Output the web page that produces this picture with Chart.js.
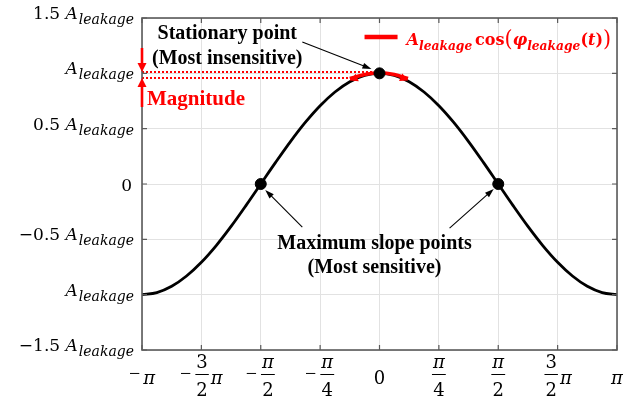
<!DOCTYPE html>
<html><head><meta charset="utf-8">
<script src="https://cdn.jsdelivr.net/npm/chart.js@4.4.1/dist/chart.umd.min.js"></script>
<style>html,body{margin:0;padding:0;background:#fff}#wrap{width:634px;height:401px;position:relative}</style>
</head><body><div id="wrap"><canvas id="c"></canvas></div>
<script>
// x in units of pi
const curveX = [-1,-0.9375,-0.875,-0.8125,-0.75,-0.6875,-0.625,-0.5625,-0.5,-0.4375,-0.375,-0.3125,-0.25,-0.1875,-0.125,-0.0625,0,0.0625,0.125,0.1875,0.25,0.3125,0.375,0.4375,0.5,0.5625,0.625,0.6875,0.75,0.8125,0.875,0.9375,1];
const curveY = [-1,-0.981,-0.924,-0.831,-0.707,-0.556,-0.383,-0.195,0,0.195,0.383,0.556,0.707,0.831,0.924,0.981,1,0.981,0.924,0.831,0.707,0.556,0.383,0.195,0,-0.195,-0.383,-0.556,-0.707,-0.831,-0.924,-0.981,-1];
const keyX = [-0.5, 0, 0.5];
const keyY = [0, 1, 0];
const arcX = [-0.125,-0.0625,0,0.0625,0.12];
const arcY = [0.953,0.99,1.005,0.99,0.953];
const magTopX = [-1, -0.03];   const magTopY = [1.012, 1.012];
const magBotX = [-1, -0.125];  const magBotY = [0.958, 0.958];
const xTickValues = [-1,-0.75,-0.5,-0.25,0,0.25,0.5,0.75,1];
const xTickLabels = [
  {sign:'−', num:'',  den:'',  tail:'π'},
  {sign:'−', num:'3', den:'2', tail:'π'},
  {sign:'−', num:'π', den:'2', tail:''},
  {sign:'−', num:'π', den:'4', tail:''},
  {sign:'',  num:'',  den:'',  tail:'0'},
  {sign:'',  num:'π', den:'4', tail:''},
  {sign:'',  num:'π', den:'2', tail:''},
  {sign:'',  num:'3', den:'2', tail:'π'},
  {sign:'',  num:'',  den:'',  tail:'π'}
];
const yTickValues = [1.5,1,0.5,0,-0.5,-1,-1.5];
const yTickLabels = [
  {pre:'1.5 ', amp:true},{pre:'', amp:true},{pre:'0.5 ', amp:true},{pre:'0', amp:false},
  {pre:'−0.5 ', amp:true},{pre:'', amp:true},{pre:'−1.5 ', amp:true}
];
const notes = [
  {lines:['Stationary point','(Most insensitive)'], x:-0.641, y:[1.310,1.084], from:[-0.325,1.283], to:[-0.034,1.039]},
  {lines:['Maximum slope points','(Most sensitive)'], x:-0.021, y:[-0.587,-0.804], from:[-0.325,-0.389], to:[-0.481,-0.054]},
  {lines:[], from:[0.295,-0.398], to:[0.481,-0.045]}
];
const magnitudeText = {text:'Magnitude', x:-0.979, y:0.714};
const magArrows = [{x:-1, from:1.229, to:1.012},{x:-1, from:0.696, to:0.958}];
const legendPos = {x0:-0.063, x1:0.076, y:1.328, tx:0.114, ty:1.256, tx1:0.975};

const SERIF = '"DejaVu Serif", serif';
const TIMES = '"Liberation Serif", "Times New Roman", serif';
const RED = '#ff0000';

function pts(xs, ys){ return xs.map((x,i)=>({x:x, y:ys[i]})); }

function arrowHead(ctx, x1,y1,x2,y2,len,wid,color){
  const a=Math.atan2(y2-y1,x2-x1);
  ctx.save(); ctx.fillStyle=color; ctx.beginPath();
  ctx.moveTo(x2,y2);
  ctx.lineTo(x2-len*Math.cos(a)+wid/2*Math.sin(a), y2-len*Math.sin(a)-wid/2*Math.cos(a));
  ctx.lineTo(x2-len*Math.cos(a)-wid/2*Math.sin(a), y2-len*Math.sin(a)+wid/2*Math.cos(a));
  ctx.closePath(); ctx.fill(); ctx.restore();
}
function drawRuns(ctx, runs, x, y, align, color, targetW){
  let total=0;
  runs.forEach(r=>{ctx.font=r.font; r.w=ctx.measureText(r.t).width + (r.gap||0); total+=r.w;});
  const sc = targetW ? targetW/total : 1;
  const W = total*sc;
  let cx = align==='right'? x-W : align==='center'? x-W/2 : x;
  ctx.save(); ctx.translate(cx, y); ctx.scale(sc, 1);
  ctx.fillStyle=color; ctx.textAlign='left'; ctx.textBaseline='alphabetic';
  let px=0;
  runs.forEach(r=>{ctx.font=r.font; ctx.fillText(r.t, px, (r.dy||0)); px+=r.w;});
  ctx.restore();
  return W;
}

const deco = {
  id:'deco',
  afterDraw(chart){
    const ctx=chart.ctx, xs=chart.scales.x, ys=chart.scales.y, ca=chart.chartArea;
    const X=v=>xs.getPixelForValue(v), Y=v=>ys.getPixelForValue(v);
    ctx.save();
    // box
    ctx.strokeStyle='#5a5a5a'; ctx.lineWidth=1.6;
    ctx.strokeRect(ca.left, ca.top, ca.right-ca.left, ca.bottom-ca.top);
    // inward ticks
    ctx.lineWidth=1.2;
    xTickValues.forEach(v=>{const p=X(v); ctx.beginPath(); ctx.moveTo(p,ca.bottom); ctx.lineTo(p,ca.bottom-5); ctx.moveTo(p,ca.top); ctx.lineTo(p,ca.top+5); ctx.stroke();});
    yTickValues.forEach(v=>{const p=Y(v); ctx.beginPath(); ctx.moveTo(ca.left,p); ctx.lineTo(ca.left+5,p); ctx.moveTo(ca.right,p); ctx.lineTo(ca.right-5,p); ctx.stroke();});
    // x tick labels
    const B=ca.bottom;
    const fnt=s=>/π/.test(s)? 'italic 18px '+SERIF : '18px '+SERIF;
    xTickValues.forEach((v,i)=>{
      const L=xTickLabels[i], c=X(v);
      ctx.font='20px '+TIMES; const sw=L.sign? ctx.measureText(L.sign).width+3:0;
      let fw=0;
      if(L.num){ ctx.font=fnt(L.num); const a=ctx.measureText(L.num).width; ctx.font=fnt(L.den); const b=ctx.measureText(L.den).width; fw=Math.max(a,b)+4; }
      ctx.font=fnt(L.tail); const tw=L.tail? ctx.measureText(L.tail).width:0;
      const gap = (L.num && L.tail)? 1:0;
      let x0=c-(sw+fw+gap+tw)/2;
      ctx.fillStyle='#000'; ctx.textBaseline='alphabetic';
      if(L.sign){ ctx.font='20px '+TIMES; ctx.textAlign='left'; ctx.fillText(L.sign,x0,B+30); x0+=sw; }
      if(L.num){
        ctx.textAlign='center';
        ctx.font=fnt(L.num); ctx.fillText(L.num,x0+fw/2,B+18);
        ctx.font=fnt(L.den); ctx.fillText(L.den,x0+fw/2,B+46);
        ctx.strokeStyle='#000'; ctx.lineWidth=1; ctx.beginPath(); ctx.moveTo(x0+1,B+24.5); ctx.lineTo(x0+fw-1,B+24.5); ctx.stroke();
        x0+=fw+gap;
      }
      if(L.tail){ ctx.font=fnt(L.tail); ctx.textAlign='left'; ctx.fillText(L.tail,x0,B+34); }
    });
    // y tick labels
    yTickValues.forEach((v,i)=>{
      const L=yTickLabels[i], p=Y(v);
      if(L.amp){
        const runs=[];
        if(L.pre) runs.push({t:L.pre, font:'17px '+SERIF});
        runs.push({t:'A', font:'italic 17px '+SERIF, gap:1});
        runs.push({t:'leakage', font:'italic 14px '+SERIF, dy:5});
        drawRuns(ctx, runs, 134, p+1, 'right', '#000');
      } else {
        drawRuns(ctx, [{t:L.pre, font:'17px '+SERIF}], 132, p+7, 'right', '#000');
      }
    });
    // red magnitude arrows
    ctx.strokeStyle=RED; ctx.lineWidth=2.6;
    magArrows.forEach(m=>{
      const x=X(m.x), y1=Y(m.from), y2=Y(m.to), dir=Math.sign(y2-y1);
      ctx.beginPath(); ctx.moveTo(x,y1); ctx.lineTo(x,y2-dir*7); ctx.stroke();
      arrowHead(ctx,x,y1,x,y2,9,9,RED);
    });
    // red arc arrowheads
    const n=arcX.length;
    arrowHead(ctx,X(arcX[1]),Y(arcY[1]),X(arcX[0]),Y(arcY[0])+2,8,8,RED);
    arrowHead(ctx,X(arcX[n-2]),Y(arcY[n-2]),X(arcX[n-1]),Y(arcY[n-1])+2,8,8,RED);
    // magnitude text
    ctx.font='bold 21px '+TIMES; ctx.fillStyle=RED; ctx.textAlign='left';
    ctx.fillText(magnitudeText.text, X(magnitudeText.x), Y(magnitudeText.y));
    // notes
    notes.forEach(nt=>{
      ctx.font='bold 20px '+TIMES; ctx.fillStyle='#000'; ctx.textAlign='center';
      nt.lines.forEach((l,j)=>ctx.fillText(l, X(nt.x), Y(nt.y[j])));
      const x1=X(nt.from[0]), y1=Y(nt.from[1]), x2=X(nt.to[0]), y2=Y(nt.to[1]);
      const a=Math.atan2(y2-y1,x2-x1);
      ctx.strokeStyle='#000'; ctx.lineWidth=1.1;
      ctx.beginPath(); ctx.moveTo(x1,y1); ctx.lineTo(x2-6*Math.cos(a),y2-6*Math.sin(a)); ctx.stroke();
      arrowHead(ctx,x1,y1,x2,y2,9,6,'#000');
    });
    // legend
    ctx.strokeStyle=RED; ctx.lineWidth=4.5;
    ctx.beginPath(); ctx.moveTo(X(legendPos.x0),Y(legendPos.y)); ctx.lineTo(X(legendPos.x1),Y(legendPos.y)); ctx.stroke();
    const BI='bold italic 17px '+SERIF, BS='bold italic 13px '+SERIF, BU='bold 17px '+SERIF, BP='22px '+SERIF;
    drawRuns(ctx,[
      {t:'A',font:BI},{t:'leakage',font:BS,dy:5,gap:3},{t:'cos',font:BU},{t:'(',font:BP,dy:1},
      {t:'φ',font:BI},{t:'leakage',font:BS,dy:5},{t:'(',font:BU},{t:'t',font:BI},{t:')',font:BU},{t:')',font:BP,dy:1}
    ], X(legendPos.tx), Y(legendPos.ty), 'left', RED, X(legendPos.tx1)-X(legendPos.tx));
    ctx.restore();
  }
};

new Chart(document.getElementById('c'), {
  type:'line',
  data:{datasets:[
    {data:pts(keyX,keyY), showLine:false, pointRadius:5.5, pointBackgroundColor:'#000', pointBorderColor:'#000', order:0},
    {data:pts(arcX,arcY), borderColor:RED, borderWidth:3.5, pointRadius:0, cubicInterpolationMode:'monotone', order:1},
    {data:pts(magTopX,magTopY), borderColor:RED, borderWidth:2, borderDash:[2,2], pointRadius:0, order:2},
    {data:pts(magBotX,magBotY), borderColor:RED, borderWidth:2, borderDash:[2,2], pointRadius:0, order:2},
    {data:pts(curveX,curveY), borderColor:'#000', borderWidth:2.8, pointRadius:0, cubicInterpolationMode:'monotone', order:3}
  ]},
  options:{
    responsive:true, maintainAspectRatio:false, animation:false,
    layout:{padding:{left:142, right:17, top:18, bottom:51}},
    plugins:{legend:{display:false}, tooltip:{enabled:false}},
    scales:{
      x:{type:'linear', min:-1, max:1,
         afterBuildTicks:s=>{s.ticks=xTickValues.map(v=>({value:v}));},
         ticks:{display:false}, grid:{color:'#e2e2e2', lineWidth:1, drawTicks:false}, border:{display:false}},
      y:{type:'linear', min:-1.5, max:1.5,
         afterBuildTicks:s=>{s.ticks=yTickValues.map(v=>({value:v}));},
         ticks:{display:false}, grid:{color:'#e2e2e2', lineWidth:1, drawTicks:false}, border:{display:false}}
    }
  },
  plugins:[deco]
});
</script></body></html>
